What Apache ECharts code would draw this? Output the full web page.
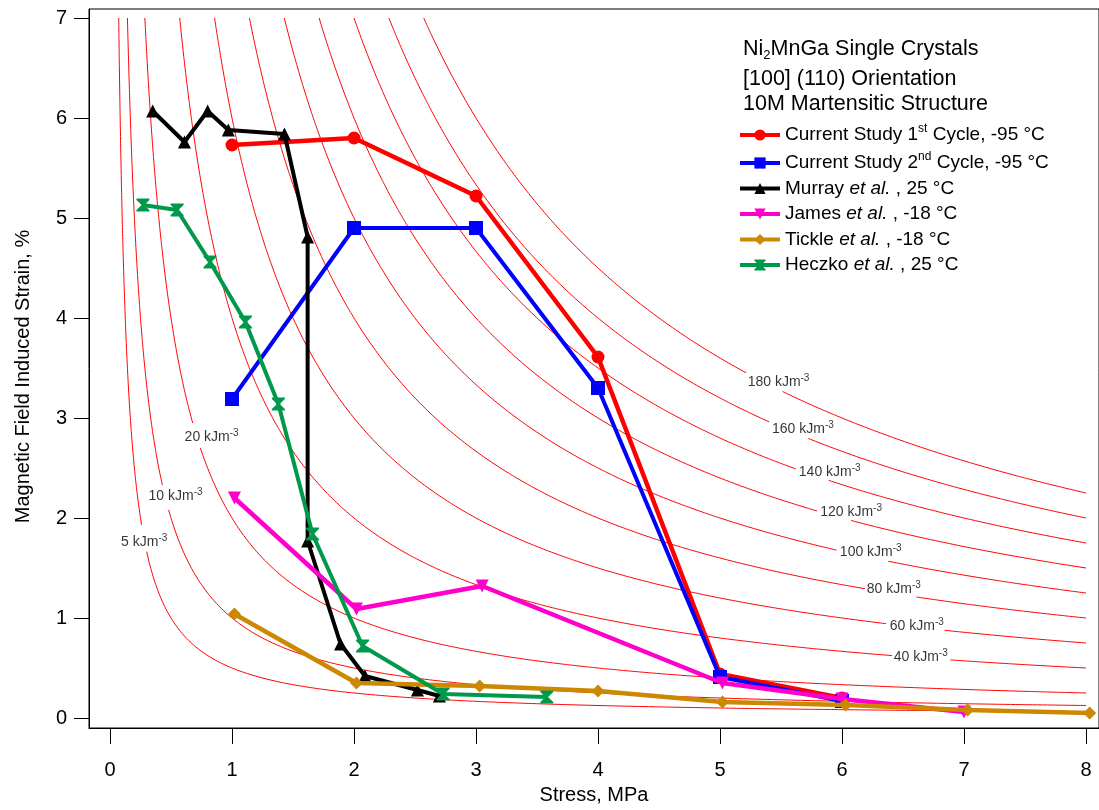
<!DOCTYPE html>
<html>
<head>
<meta charset="utf-8">
<title>Ni2MnGa magnetic field induced strain vs stress</title>
<script src="https://cdn.jsdelivr.net/npm/echarts@6/dist/echarts.min.js"></script>
<style>
  html, body { margin: 0; padding: 0; background: #fff; }
  #chart { width: 1099px; height: 810px; }
</style>
</head>
<body>
<div id="chart"></div>
<script>
const FONT = '"Liberation Sans", Arial, Helvetica, sans-serif';

// ---- axis ticks ----
const stressTicks = [0, 1, 2, 3, 4, 5, 6, 7, 8];
const strainTicks = [0, 1, 2, 3, 4, 5, 6, 7];

// ---- measured data: [stress MPa, strain %] ----
const currentCycle1 = [[1, 5.73], [2, 5.80], [3, 5.22], [4, 3.61], [5, 0.44], [6, 0.20]];
const currentCycle2 = [[1, 3.19], [2, 4.90], [3, 4.90], [4, 3.30], [5, 0.41], [6, 0.17]];
const murray = [[0.35, 6.07], [0.61, 5.76], [0.80, 6.07], [0.97, 5.88], [1.43, 5.84], [1.62, 4.81],
                [1.62, 1.77], [1.89, 0.74], [2.09, 0.42], [2.52, 0.28], [2.70, 0.22]];
const james = [[1.02, 2.20], [2.02, 1.09], [3.05, 1.32], [5.02, 0.35], [6.0, 0.19], [7.0, 0.06]];
const tickle = [[1.02, 1.04], [2.02, 0.35], [3.03, 0.32], [4.0, 0.27], [5.02, 0.16], [6.03, 0.13], [7.03, 0.08], [8.03, 0.05]];
const heczko = [[0.27, 5.13], [0.55, 5.08], [0.82, 4.56], [1.11, 3.96], [1.38, 3.14], [1.66, 1.84],
                [2.07, 0.72], [2.73, 0.24], [3.58, 0.21]];

// ---- iso-energy contours (kJ/m^3); energy = stress[MPa] * strain[%] * 10 ----
const energyLevels = [5, 10, 20, 40, 60, 80, 100, 120, 140, 160, 180];

// where each contour is broken for its label (stress range) and label nudge in px
const contourLabelLayout = {
  5:   { gap: [0.26, 0.30], dx: 0,  dy: 3 },
  10:  { gap: [0.43, 0.48], dx: 10, dy: -2 },
  20:  { gap: [0.68, 0.74], dx: 15, dy: 1 },
  40:  { gap: [6.41, 6.88], dx: 0,  dy: -1 },
  60:  { gap: [6.37, 6.84], dx: 1,  dy: -1 },
  80:  { gap: [6.19, 6.61], dx: 3,  dy: -4 },
  100: { gap: [5.96, 6.38], dx: 8,  dy: -4 },
  120: { gap: [5.80, 6.07], dx: 17, dy: -4 },
  140: { gap: [5.63, 5.89], dx: 17, dy: -3 },
  160: { gap: [5.41, 5.72], dx: 14, dy: -1 },
  180: { gap: [5.22, 5.51], dx: 14, dy: 0 }
};

const STRESS_MAX = 8;
const STRAIN_MAX = 7;

function strainOnContour(level, stress) {
  return level / (10 * stress);
}

function contourSegments(level) {
  const s0 = level / (10 * STRAIN_MAX);
  const n = 1500;
  const ratio = Math.pow(STRESS_MAX / s0, 1 / n);
  const gap = contourLabelLayout[level].gap;
  const before = [], after = [];
  for (let i = 0; i <= n; i++) {
    const s = s0 * Math.pow(ratio, i);
    const p = [s, strainOnContour(level, s)];
    if (s <= gap[0]) before.push(p);
    else if (s >= gap[1]) after.push(p);
  }
  return [before, after];
}

// ---- axis window (frame runs to the right edge of the page) ----
const GRID = { left: 89, top: 9, width: 1010, height: 720 };
const PX_PER_STRESS = 122;
const X_MIN = -21 / PX_PER_STRESS;
const X_MAX = X_MIN + GRID.width / PX_PER_STRESS;
const Y_MIN = -0.1;
const Y_MAX = 7.09;

const contourSeries = [];
energyLevels.forEach(level => {
  contourSegments(level).forEach(seg => {
    contourSeries.push({
      type: 'line',
      data: seg,
      showSymbol: false,
      symbol: 'none',
      silent: true,
      lineStyle: { color: '#ff0000', width: 1 },
      z: 1,
      animation: false
    });
  });
});

const contourLabelData = energyLevels.map(level => {
  const L = contourLabelLayout[level];
  const s = (L.gap[0] + L.gap[1]) / 2;
  return {
    value: [s, strainOnContour(level, s)],
    level: level,
    label: { offset: [L.dx, L.dy] }
  };
});

const contourLabelSeries = {
  type: 'scatter',
  data: contourLabelData,
  symbolSize: 0,
  silent: true,
  z: 2,
  animation: false,
  label: {
    show: true,
    position: 'inside',
    align: 'center',
    verticalAlign: 'middle',
    formatter: p => `{n|${p.data.level} kJm}{s|-3}`,
    rich: {
      n: { fontFamily: FONT, fontSize: 14, color: '#000', lineHeight: 18 },
      s: { fontFamily: FONT, fontSize: 10, color: '#000', verticalAlign: 'top' }
    }
  }
};

const NAMES = {
  c1: 'Current Study 1st Cycle, -95 °C',
  c2: 'Current Study 2nd Cycle, -95 °C',
  mu: 'Murray et al. , 25 °C',
  ja: 'James et al. , -18 °C',
  ti: 'Tickle et al. , -18 °C',
  he: 'Heczko et al. , 25 °C'
};

const legendRich = {
  [NAMES.c1]: '{t|Current Study 1}{s|st}{t| Cycle, -95 °C}',
  [NAMES.c2]: '{t|Current Study 2}{s|nd}{t| Cycle, -95 °C}',
  [NAMES.mu]: '{t|Murray }{i|et al.}{t| , 25 °C}',
  [NAMES.ja]: '{t|James }{i|et al.}{t| , -18 °C}',
  [NAMES.ti]: '{t|Tickle }{i|et al.}{t| , -18 °C}',
  [NAMES.he]: '{t|Heczko }{i|et al.}{t| , 25 °C}'
};

function dataSeries(name, data, color, symbol, symbolSize, width, z) {
  return {
    name: name,
    type: 'line',
    data: data,
    symbol: symbol,
    symbolSize: symbolSize,
    showAllSymbol: true,
    lineStyle: { color: color, width: width },
    itemStyle: { color: color },
    z: z,
    animation: false
  };
}

const DOWN_TRIANGLE = 'path://M0,0L10,0L5,9Z';
const HOURGLASS = 'path://M0,0H10V1.2L6,5L10,8.8V10H0V8.8L4,5L0,1.2Z';

const option = {
  backgroundColor: '#fff',
  animation: false,
  grid: {
    left: GRID.left, top: GRID.top, width: GRID.width, height: GRID.height,
    show: true, borderColor: '#000', borderWidth: 1, backgroundColor: 'transparent'
  },
  xAxis: {
    type: 'value',
    min: X_MIN,
    max: X_MAX,
    name: 'Stress, MPa',
    nameLocation: 'middle',
    nameGap: 57,
    nameTextStyle: { fontFamily: FONT, fontSize: 20, color: '#000' },
    axisLine: { show: true, onZero: false, lineStyle: { color: '#000', width: 1 } },
    axisTick: { show: true, customValues: stressTicks, length: 16, lineStyle: { color: '#000', width: 1 } },
    axisLabel: { customValues: stressTicks, margin: 32, fontFamily: FONT, fontSize: 20, color: '#000' },
    splitLine: { show: false }
  },
  yAxis: {
    type: 'value',
    min: Y_MIN,
    max: Y_MAX,
    name: 'Magnetic Field Induced Strain, %',
    nameLocation: 'middle',
    nameGap: 56,
    nameTextStyle: { fontFamily: FONT, fontSize: 20, color: '#000', padding: [0, 16, 0, 0] },
    axisLine: { show: true, onZero: false, lineStyle: { color: '#000', width: 1 } },
    axisTick: { show: true, customValues: strainTicks, length: 15, lineStyle: { color: '#000', width: 1 } },
    axisLabel: { customValues: strainTicks, margin: 22, fontFamily: FONT, fontSize: 20, color: '#000' },
    splitLine: { show: false }
  },
  legend: {
    data: Object.values(NAMES),
    orient: 'vertical',
    left: 738,
    top: 123,
    padding: 0,
    itemWidth: 40,
    itemHeight: 14,
    itemGap: 6.5,
    selectedMode: false,
    lineStyle: { width: 4 },
    formatter: name => legendRich[name],
    textStyle: {
      color: '#000',
      fontFamily: FONT,
      fontSize: 19,
      rich: {
        t: { fontFamily: FONT, fontSize: 19, color: '#000', lineHeight: 20 },
        i: { fontFamily: FONT, fontSize: 19, color: '#000', fontStyle: 'italic', lineHeight: 20 },
        s: { fontFamily: FONT, fontSize: 12, color: '#000', verticalAlign: 'top', lineHeight: 24 }
      }
    }
  },
  graphic: [
    {
      type: 'text', left: 743, top: 38, silent: true,
      style: {
        text: '{a|Ni}{b|2}{a|MnGa Single Crystals}',
        rich: {
          a: { fontFamily: FONT, fontSize: 21.5, fill: '#000', lineHeight: 26 },
          b: { fontFamily: FONT, fontSize: 13, fill: '#000', verticalAlign: 'bottom' }
        }
      }
    },
    {
      type: 'text', left: 743, top: 68, silent: true,
      style: { text: '[100] (110) Orientation', font: '21.5px ' + FONT, fill: '#000' }
    },
    {
      type: 'text', left: 743, top: 93, silent: true,
      style: { text: '10M Martensitic Structure', font: '21.5px ' + FONT, fill: '#000' }
    }
  ],
  series: [
    ...contourSeries,
    contourLabelSeries,
    dataSeries(NAMES.c1, currentCycle1, '#ff0000', 'circle', 13, 4.5, 10),
    dataSeries(NAMES.c2, currentCycle2, '#0000ff', 'rect', 14, 4, 11),
    dataSeries(NAMES.mu, murray, '#000000', 'triangle', 13, 4, 12),
    dataSeries(NAMES.ja, james, '#ff00cc', DOWN_TRIANGLE, 13, 4.5, 13),
    dataSeries(NAMES.ti, tickle, '#cc8800', 'diamond', 13, 4.5, 14),
    dataSeries(NAMES.he, heczko, '#00994c', HOURGLASS, 13, 4, 15)
  ]
};

const chart = echarts.init(document.getElementById('chart'), null, { renderer: 'canvas' });
chart.setOption(option);
</script>
</body>
</html>
